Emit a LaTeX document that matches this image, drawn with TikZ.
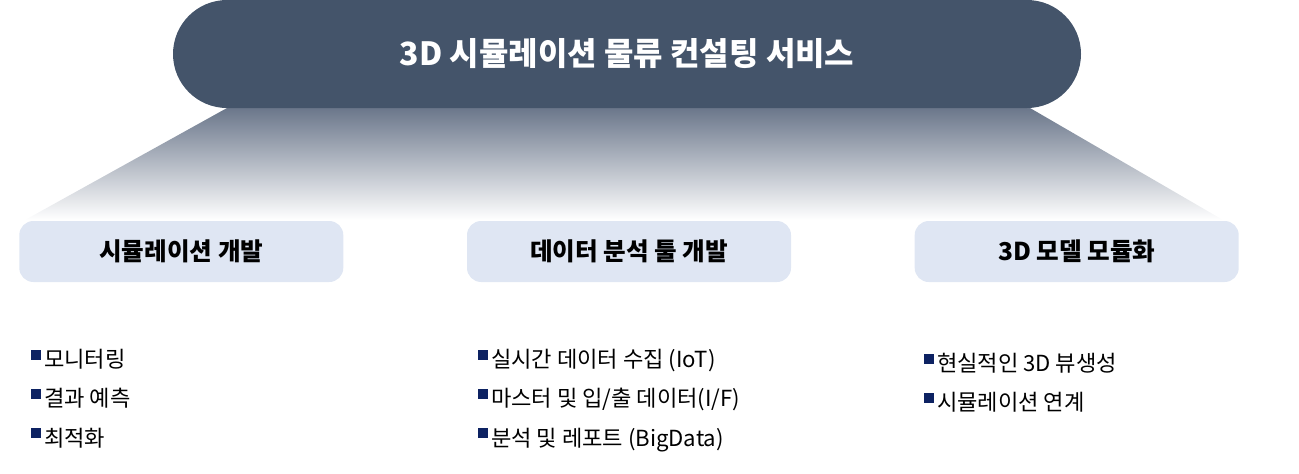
\documentclass[tikz,border=0pt]{standalone}
\usepackage{fontspec}
\setmainfont{Noto Sans CJK KR}
\usepackage{xcolor}
\usepackage{tikz}
\usetikzlibrary{positioning}
\definecolor{ctitle}{HTML}{44546A}
\definecolor{cbox}{HTML}{DFE6F3}
\definecolor{cfadetop}{HTML}{6B778B}
\definecolor{cfademid}{HTML}{C9D2E3}
\definecolor{cbullet}{HTML}{0D2262}
\newcommand{\sqbullet}{\raisebox{4.6pt}{\textcolor{cbullet}{\rule{5.6pt}{5.6pt}}}\hspace{1.6pt}}

\begin{document}
\begin{tikzpicture}[
    node distance=2.46cm,
    titlenode/.style={fill=ctitle, rounded corners=1.08cm, minimum width=18.16cm,
                      minimum height=2.16cm, text=white, font=\fontsize{18.2}{21}\selectfont\bfseries},
    boxnode/.style={fill=cbox, rounded corners=8pt, minimum width=6.48cm,
                    minimum height=1.22cm, font=\fontsize{14}{17}\selectfont\bfseries},
    listnode/.style={anchor=north west, inner sep=0pt, align=left,
                     font=\fontsize{12.6}{22.3}\selectfont}
]
\useasboundingbox (0,0) rectangle (25.98,-9.46);
% fan below the title
\shade[top color=cfadetop, middle color=cfademid, bottom color=white]
    (4.54,-2.16) -- (20.6,-2.16) -- (24.46,-4.4) -- (0.5,-4.4) -- cycle;
\node[titlenode] (title) at (12.54,-1.08) {3D 시뮬레이션 물류 컨설팅 서비스};
\node[boxnode] (data) at (12.58,-5.03) {데이터 분석 툴 개발};
\node[boxnode, left=of data] (sim) {시뮬레이션 개발};
\node[boxnode, right=of data] (model) {3D 모델 모듈화};
% item lists
\node[listnode] (simlist) at (0.62,-6.98) {\sqbullet{}모니터링\\\sqbullet{}결과 예측\\\sqbullet{}최적화};
\node[listnode] (datalist) at (9.56,-6.98) {\sqbullet{}실시간 데이터 수집 (IoT)\\\sqbullet{}마스터 및 입/출 데이터(I/F)\\\sqbullet{}분석 및 레포트 (BigData)};
\node[listnode] (modellist) at (18.48,-7.06) {\sqbullet{}현실적인 3D 뷰생성\\\sqbullet{}시뮬레이션 연계};
\end{tikzpicture}
\end{document}
